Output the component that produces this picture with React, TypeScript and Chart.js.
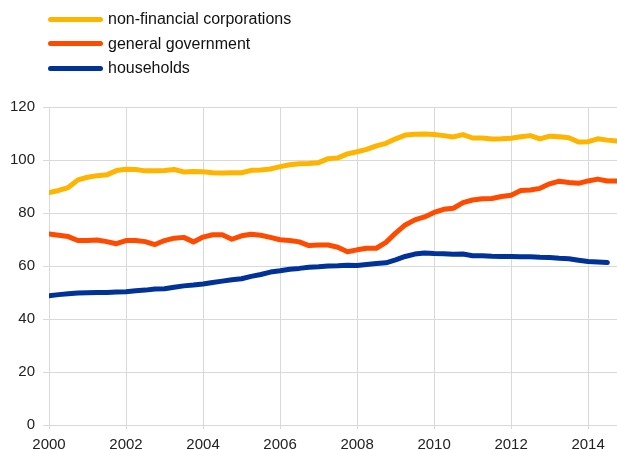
import React, { useEffect, useRef } from "react";
import { Chart, registerables } from "chart.js";

Chart.register(...registerables);

const startYear = 2000;
const quartersPerYear = 4;
const xTickLabels = [2000, 2002, 2004, 2006, 2008, 2010, 2012, 2014];
const yTickLabels = [0, 20, 40, 60, 80, 100, 120];

const seriesNames = ["non-financial corporations", "general government", "households"];
const seriesColors = ["#FFB400", "#FF4B00", "#003299"];

// quarterly values, 2000 Q1 onwards
const nonFinancialCorporations = [
  87.7, 88.5, 89.6, 92.5,
  93.5, 94.1, 94.4, 96.0,
  96.5, 96.4, 95.9, 95.9,
  96.0, 96.4, 95.5, 95.7,
  95.6, 95.2, 95.1, 95.2,
  95.2, 96.1, 96.2, 96.6,
  97.5, 98.2, 98.6, 98.7,
  99.0, 100.5, 100.8, 102.3,
  103.1, 104.0, 105.3, 106.3,
  108.0, 109.4, 109.7, 109.8,
  109.6, 109.2, 108.7, 109.6,
  108.3, 108.3, 107.9, 108.0,
  108.2, 108.8, 109.2, 108.0,
  109.0, 108.8, 108.4, 106.8,
  106.9, 108.0, 107.5, 107.2,
];

const generalGovernment = [
  72.1, 71.6, 71.1, 69.6,
  69.6, 69.8, 69.2, 68.4,
  69.6, 69.6, 69.2, 68.1,
  69.6, 70.5, 70.8, 69.1,
  70.9, 71.8, 71.8, 70.1,
  71.4, 72.0, 71.6, 70.8,
  69.9, 69.6, 69.1, 67.7,
  67.9, 67.9, 67.1, 65.4,
  66.1, 66.7, 66.7, 68.9,
  72.4, 75.5, 77.4, 78.5,
  80.2, 81.4, 81.8, 83.9,
  84.9, 85.4, 85.5, 86.2,
  86.7, 88.5, 88.7, 89.3,
  91.0, 92.0, 91.5, 91.2,
  92.1, 92.8, 92.1, 92.1,
];

const households = [
  48.8, 49.2, 49.5, 49.8,
  49.9, 50.0, 50.0, 50.2,
  50.3, 50.7, 50.9, 51.3,
  51.4, 52.0, 52.5, 52.8,
  53.2, 53.8, 54.3, 54.8,
  55.2, 56.1, 56.8, 57.7,
  58.2, 58.8, 59.1, 59.5,
  59.7, 60.0, 60.1, 60.3,
  60.2, 60.6, 60.9, 61.2,
  62.3, 63.6, 64.5, 64.9,
  64.7, 64.6, 64.4, 64.5,
  63.9, 63.9, 63.7, 63.6,
  63.6, 63.5, 63.5, 63.3,
  63.2, 62.9, 62.7, 62.2,
  61.7, 61.5, 61.3,
];

const allSeries = [nonFinancialCorporations, generalGovernment, households];

const toPoints = (vals: number[]) =>
  vals.map((v, i) => ({ x: startYear + i / quartersPerYear, y: v }));

const fontFamily = "'Liberation Sans', Arial, sans-serif";

export default function App() {
  const ref = useRef<HTMLCanvasElement | null>(null);

  useEffect(() => {
    if (!ref.current) return;
    const chart = new Chart(ref.current, {
      type: "line",
      data: {
        datasets: allSeries.map((vals, i) => ({
          label: seriesNames[i],
          data: toPoints(vals),
          borderColor: seriesColors[i],
          backgroundColor: seriesColors[i],
          borderWidth: 5,
          pointRadius: 0,
          tension: 0,
          borderCapStyle: "round" as const,
          borderJoinStyle: "round" as const,
          fill: false,
        })),
      },
      options: {
        animation: false,
        responsive: false,
        maintainAspectRatio: false,
        layout: { padding: { top: 107, right: 0, left: 0, bottom: 0 } },
        plugins: { legend: { display: false }, tooltip: { enabled: false } },
        scales: {
          x: {
            type: "linear",
            min: xTickLabels[0],
            max: 2014.75,
            afterFit: (s: any) => { s.height = 25; },
            afterBuildTicks: (s: any) => { s.ticks = xTickLabels.map((v) => ({ value: v })); },
            ticks: {
              includeBounds: false,
              autoSkip: false,
              maxRotation: 0,
              padding: 7,
              color: "#222",
              font: { family: fontFamily, size: 15 },
              callback: (v: any) => String(v),
            },
            grid: { color: "#d9d9d9", lineWidth: 1, tickLength: 4 },
            border: { display: false },
          },
          y: {
            min: 0,
            max: 120,
            afterFit: (s: any) => { s.width = 49; },
            afterBuildTicks: (s: any) => { s.ticks = yTickLabels.map((v) => ({ value: v })); },
            ticks: {
              padding: 8,
              color: "#222",
              font: { family: fontFamily, size: 15 },
              callback: (v: any) => String(v),
            },
            grid: { color: "#d9d9d9", lineWidth: 1, tickLength: 6 },
            border: { display: false },
          },
        },
      },
    });
    return () => chart.destroy();
  }, []);

  return (
    <div style={{ position: "fixed", left: 0, top: 0, width: 617, height: 450, background: "#fff" }}>
      <canvas ref={ref} width={617} height={450} style={{ position: "absolute", left: 0, top: 0 }} />
      {seriesNames.map((name, i) => (
        <div
          key={name}
          style={{
            position: "absolute",
            left: 48,
            top: 19 + i * 24.7 - 10,
            height: 20,
            display: "flex",
            alignItems: "center",
            fontFamily,
            fontSize: 16,
            color: "#111",
            whiteSpace: "nowrap",
          }}
        >
          <span
            style={{
              display: "inline-block",
              width: 55,
              height: 5,
              borderRadius: 3,
              background: seriesColors[i],
              marginRight: 5,
            }}
          />
          <span>{name}</span>
        </div>
      ))}
    </div>
  );
}
